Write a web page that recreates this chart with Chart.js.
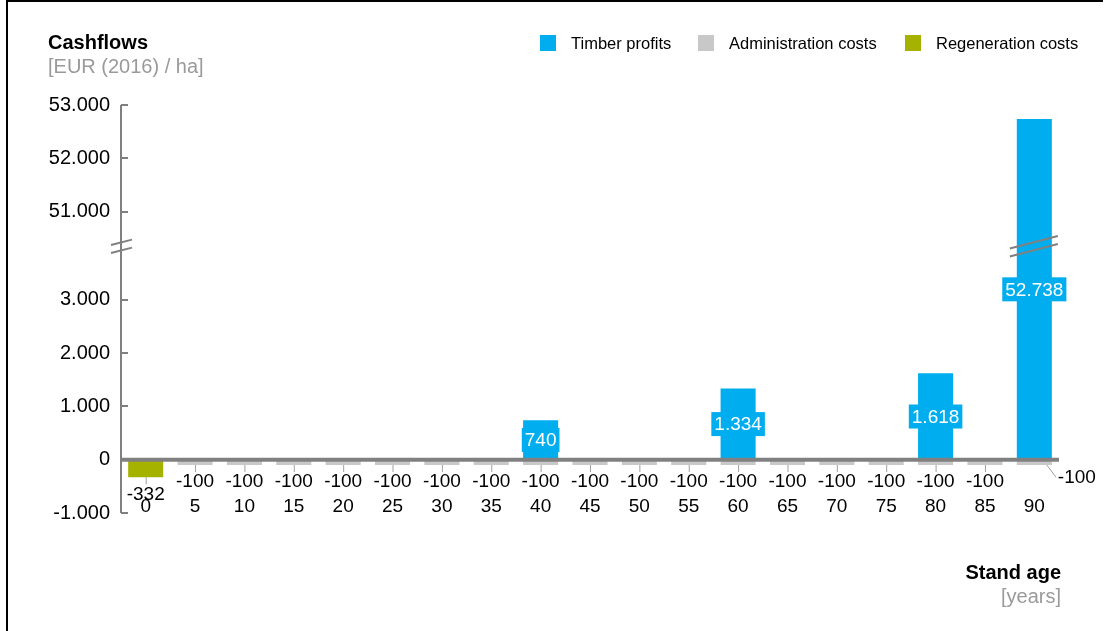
<!DOCTYPE html>
<html>
<head>
<meta charset="utf-8">
<script src="https://cdn.jsdelivr.net/npm/chart.js@4.4.1/dist/chart.umd.min.js"></script>
<style>
  html, body { margin: 0; padding: 0; background: #fff; overflow: hidden; }
  #wrap { position: relative; width: 1108px; height: 631px; }
</style>
</head>
<body>
<div id="wrap"><canvas id="cashflowChart"></canvas></div>
<script>
// Data
const ages = ['0', '5', '10', '15', '20', '25', '30', '35', '40', '45', '50', '55', '60', '65', '70', '75', '80', '85', '90'];
const timberProfits = [null, null, null, null, null, null, null, null, 740, null, null, null, 1334, null, null, null, 1618, null, 52738];
const adminCosts = [null, -100, -100, -100, -100, -100, -100, -100, -100, -100, -100, -100, -100, -100, -100, -100, -100, -100, -100];
const regenCosts = [-332, null, null, null, null, null, null, null, null, null, null, null, null, null, null, null, null, null, null];
const yTicks = [-1000, 0, 1000, 2000, 3000, 51000, 52000, 53000];
const lowerRange = [-1000, 4000];
const upperRange = [50350, 53000];

const colors = {
    timber: '#00AEEF',
    admin: '#C8C8C8',
    regen: '#A5B300',
    axis: '#808080',
    subtitle: '#9A9A9A'
};
const FONT = '"Liberation Sans", Arial, sans-serif';
const fmt = v => v.toLocaleString('de-DE');

// Linear scale with a gap between the lower and upper value ranges
class BrokenScale extends Chart.LinearScale {
    getPixelForValue(value) {
        const lowSpan = lowerRange[1] - lowerRange[0];
        const span = lowSpan + (upperRange[1] - upperRange[0]);
        let u;
        if (value <= lowerRange[1]) u = value - lowerRange[0];
        else if (value >= upperRange[0]) u = lowSpan + (value - upperRange[0]);
        else u = lowSpan;
        return this.bottom - u / span * (this.bottom - this.top);
    }
    getValueForPixel(pixel) {
        const lowSpan = lowerRange[1] - lowerRange[0];
        const span = lowSpan + (upperRange[1] - upperRange[0]);
        const u = (this.bottom - pixel) / (this.bottom - this.top) * span;
        return u <= lowSpan ? lowerRange[0] + u : upperRange[0] + (u - lowSpan);
    }
}
BrokenScale.id = 'broken';
Chart.register(BrokenScale);

function breakMark(ctx, x1, x2, yc) {
    const rise = (x2 - x1) * 0.26;
    ctx.save();
    ctx.strokeStyle = colors.axis;
    ctx.lineWidth = 2;
    [-4, 4].forEach(off => {
        ctx.beginPath();
        ctx.moveTo(x1, yc + rise / 2 + off);
        ctx.lineTo(x2, yc - rise / 2 + off);
        ctx.stroke();
    });
    ctx.restore();
}

const decorPlugin = {
    id: 'decor',
    beforeDraw(chart) {
        const ctx = chart.ctx;
        ctx.save();
        // frame
        ctx.fillStyle = '#000';
        ctx.fillRect(6, 0, 2, 631);
        ctx.fillRect(6, 0, 1097, 2);

        // title
        ctx.textBaseline = 'middle';
        ctx.textAlign = 'left';
        ctx.font = 'bold 20px ' + FONT;
        ctx.fillText('Cashflows', 48, 43);
        ctx.font = '20px ' + FONT;
        ctx.fillStyle = colors.subtitle;
        ctx.fillText('[EUR (2016) / ha]', 48, 67);

        // legend
        const items = [
            { label: 'Timber profits', color: colors.timber, x: 540 },
            { label: 'Administration costs', color: colors.admin, x: 698 },
            { label: 'Regeneration costs', color: colors.regen, x: 905 }
        ];
        ctx.font = '16.5px ' + FONT;
        items.forEach(it => {
            ctx.fillStyle = it.color;
            ctx.fillRect(it.x, 35, 16, 16);
            ctx.fillStyle = '#000';
            ctx.fillText(it.label, it.x + 31, 44);
        });

        // x axis title
        ctx.textAlign = 'right';
        ctx.font = 'bold 20px ' + FONT;
        ctx.fillStyle = '#000';
        ctx.fillText('Stand age', 1061, 573);
        ctx.font = '20px ' + FONT;
        ctx.fillStyle = colors.subtitle;
        ctx.fillText('[years]', 1061, 597);
        ctx.restore();
    },
    afterDatasetsDraw(chart) {
        const ctx = chart.ctx;
        const y = chart.scales.y;
        const area = chart.chartArea;
        ctx.save();

        // y axis line with inward ticks
        ctx.strokeStyle = colors.axis;
        ctx.lineWidth = 2;
        ctx.beginPath();
        ctx.moveTo(area.left, y.getPixelForValue(53000));
        ctx.lineTo(area.left, y.getPixelForValue(-1000));
        yTicks.forEach(t => {
            if (t === 0) return;
            const py = Math.round(y.getPixelForValue(t));
            ctx.moveTo(area.left, py);
            ctx.lineTo(area.left + 7, py);
        });
        ctx.stroke();

        // zero line
        const y0 = y.getPixelForValue(0);
        ctx.lineWidth = 4;
        ctx.beginPath();
        ctx.moveTo(area.left, y0);
        ctx.lineTo(area.right, y0);
        ctx.stroke();

        // axis break marks
        const yb = y.getPixelForValue(lowerRange[1]);
        breakMark(ctx, area.left - 10, area.left + 11, yb);
        const lastBar = chart.getDatasetMeta(0).data[ages.length - 1];
        breakMark(ctx, lastBar.x - lastBar.width / 2 - 7, lastBar.x + lastBar.width / 2 + 6, yb);

        // data labels
        ctx.font = '19px ' + FONT;
        ctx.textBaseline = 'middle';
        ctx.textAlign = 'center';
        chart.getDatasetMeta(0).data.forEach((bar, i) => {
            const v = timberProfits[i];
            if (v == null) return;
            const cy = (bar.y + bar.base) / 2;
            const txt = fmt(v);
            const tw = ctx.measureText(txt).width;
            ctx.fillStyle = colors.timber;
            ctx.fillRect(bar.x - tw / 2 - 3, cy - 12, tw + 6, 24);
            ctx.fillStyle = '#fff';
            ctx.fillText(txt, bar.x, cy + 1);
        });

        const negLabel = (bar, v, last) => {
            const bottom = Math.max(bar.y, bar.base);
            ctx.strokeStyle = '#A0A0A0';
            ctx.lineWidth = 1;
            ctx.beginPath();
            ctx.fillStyle = '#000';
            if (last) {
                ctx.moveTo(bar.x + bar.width / 2 - 5, bottom);
                ctx.lineTo(bar.x + bar.width / 2 + 4, bottom + 12);
                ctx.stroke();
                ctx.textAlign = 'left';
                ctx.fillText(fmt(v), bar.x + bar.width / 2 + 6, bottom + 13);
                ctx.textAlign = 'center';
            } else {
                ctx.moveTo(bar.x + 0.5, bottom);
                ctx.lineTo(bar.x + 0.5, bottom + 7);
                ctx.stroke();
                ctx.fillText(fmt(v), bar.x, bottom + 17);
            }
        };
        chart.getDatasetMeta(1).data.forEach((bar, i) => {
            if (adminCosts[i] == null) return;
            negLabel(bar, adminCosts[i], i === ages.length - 1);
        });
        chart.getDatasetMeta(2).data.forEach((bar, i) => {
            if (regenCosts[i] == null) return;
            negLabel(bar, regenCosts[i], false);
        });
        ctx.restore();
    }
};

const ctxBar = document.getElementById('cashflowChart').getContext('2d');

const cashflowChart = new Chart(ctxBar, {
    type: 'bar',
    data: {
        labels: ages,
        datasets: [{
            label: 'Timber profits',
            data: timberProfits,
            backgroundColor: colors.timber
        }, {
            label: 'Administration costs',
            data: adminCosts,
            backgroundColor: colors.admin
        }, {
            label: 'Regeneration costs',
            data: regenCosts,
            backgroundColor: colors.regen
        }]
    },
    options: {
        responsive: true,
        maintainAspectRatio: false,
        animation: false,
        locale: 'de-DE',
        categoryPercentage: 0.71,
        barPercentage: 1,
        layout: {
            padding: { left: 20, right: 49, top: 105, bottom: 78 }
        },
        scales: {
            x: {
                stacked: true,
                grid: { display: false, drawTicks: false },
                border: { display: false },
                ticks: {
                    color: '#000',
                    padding: -5,
                    mirror: true,
                    maxRotation: 0,
                    autoSkip: false,
                    font: { family: FONT, size: 19 }
                },
                afterFit: s => { s.height = 40; }
            },
            y: {
                type: 'broken',
                stacked: true,
                min: -1000,
                max: 53000,
                grid: { display: false, drawTicks: false },
                border: { display: false },
                ticks: {
                    color: '#000',
                    padding: 11,
                    autoSkip: false,
                    font: { family: FONT, size: 20 },
                    callback: v => fmt(v)
                },
                afterBuildTicks: s => { s.ticks = yTicks.map(v => ({ value: v })); },
                afterFit: s => { s.width = 101; }
            }
        },
        plugins: {
            legend: { display: false },
            tooltip: { enabled: false }
        }
    },
    plugins: [decorPlugin]
});
</script>
</body>
</html>
